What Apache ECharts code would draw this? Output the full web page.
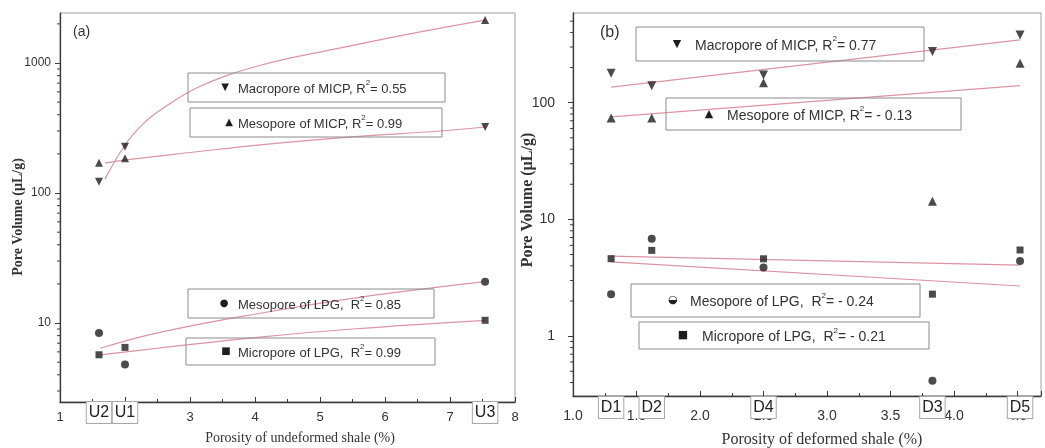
<!DOCTYPE html>
<html><head><meta charset="utf-8">
<script src="https://cdn.jsdelivr.net/npm/echarts@6/dist/echarts.min.js"></script>
<style>html,body{margin:0;padding:0;background:#fff}#c{width:1045px;height:448px}</style>
</head><body><div id="c"></div>
<script>
// ---------- data: panel (a) undeformed shale ----------
const leftCats = ['U2', 'U1', 'U3'];
const leftPorosity = [1.6, 2.0, 7.54];
const leftMacroMICP = [122, 227, 322];   // down triangles
const leftMesoMICP = [171, 185, 2140];   // up triangles
const leftMesoLPG = [8.4, 4.8, 20.8];    // circles
const leftMicroLPG = [5.7, 6.5, 10.5];   // squares
// fit curves [porosity, volume]
const leftFitMacroMICP = [[1.69, 128], [2.0, 234], [2.25, 330], [2.5, 420], [3.15, 660], [4.1, 965], [5.3, 1300], [6.5, 1720], [7.54, 2140]];
const leftFitMesoMICP = [[1.69, 170], [2.02, 180], [3.0, 205], [4.08, 235], [5.5, 270], [6.85, 300], [7.54, 322]];
const leftFitMesoLPG = [[1.62, 6.4], [2.5, 8.4], [4.08, 11.9], [5.5, 15.5], [7.5, 20.7]];
const leftFitMicroLPG = [[1.62, 5.7], [2.5, 6.4], [4.08, 7.8], [5.5, 9.0], [7.54, 10.5]];
const leftLegend = [
  ['▼', 'Macropore of MICP, R', '= 0.55'],
  ['▲', 'Mesopore of MICP, R', '= 0.99'],
  ['●', 'Mesopore of LPG,  R', '= 0.85'],
  ['■', 'Micropore of LPG,  R', '= 0.99']
];

// ---------- data: panel (b) deformed shale ----------
const rightCats = ['D1', 'D2', 'D4', 'D3', 'D5'];
const rightPorosity = [1.30, 1.62, 2.50, 3.83, 4.52];
const rightMacroMICP = [179, 140, 173, 274, 381];
const rightMesoMICP = [74, 74, 148, 14.3, 218];
const rightMesoLPG = [2.29, 6.84, 3.87, 0.415, 4.41];
const rightMicroLPG = [4.61, 5.43, 4.6, 2.29, 5.47];
const rightFitMacroMICP = [[1.30, 136], [4.52, 345]];
const rightFitMesoMICP = [[1.30, 75.5], [4.52, 140]];
const rightFitMicroLPG = [[1.30, 4.85], [4.52, 4.06]];
const rightFitMesoLPG = [[1.30, 4.32], [4.52, 2.69]];
const rightLegend = [
  ['▼', 'Macropore of MICP, R', '= 0.77'],
  ['▲', 'Mesopore of MICP, R', '= - 0.13'],
  ['◒', 'Mesopore of LPG,  R', '= - 0.24'],
  ['■', 'Micropore of LPG,  R', '= - 0.21']
];

const SANS = '"Liberation Sans", Arial, sans-serif';
const SERIF = '"Liberation Serif", "Times New Roman", serif';
const LINE = '#dc94a2';
const MARK = '#1e1e1e';
const AX = '#3a3a3a';

function pow10Label(v) {
  const l = Math.log10(v), r = Math.round(l);
  return Math.abs(l - r) < 1e-6 ? String(Math.round(Math.pow(10, r))) : '';
}
function halfLabel(v) {
  return Math.abs(v * 2 - Math.round(v * 2)) < 1e-6 ? v.toFixed(1) : '';
}
const pairs = (xs, ys) => xs.map((x, i) => [x, ys[i]]);

const chart = echarts.init(document.getElementById('c'));

function xAx(grid, min, max, interval, fmt, fs, margin) {
  return {
    gridIndex: grid, type: 'value', min: min, max: max, interval: interval,
    axisLine: { show: true, onZero: false, lineStyle: { color: AX, width: 1.3 } },
    axisTick: { show: true, inside: true, length: 5, lineStyle: { color: AX } },
    minorTick: { show: true, splitNumber: 2, length: 3, lineStyle: { color: AX } },
    splitLine: { show: false }, minorSplitLine: { show: false },
    axisLabel: { formatter: fmt, fontFamily: SANS, fontSize: fs, color: '#333', margin: margin, showMaxLabel: true }
  };
}
function yAx(grid, min, max, fs, margin) {
  return {
    gridIndex: grid, type: 'log', min: min, max: max,
    axisLine: { show: true, onZero: false, lineStyle: { color: AX, width: 1.3 } },
    axisTick: { show: true, inside: false, length: 5, lineStyle: { color: AX } },
    splitLine: { show: false },
    axisLabel: { formatter: pow10Label, fontFamily: SANS, fontSize: fs, color: '#333', margin: margin, showMinLabel: false, showMaxLabel: false }
  };
}
function sc(name, xi, data, symbol, rot, size) {
  return { name: name, type: 'scatter', xAxisIndex: xi, yAxisIndex: xi, data: data,
    symbol: symbol, symbolRotate: rot, symbolSize: size,
    itemStyle: { color: MARK }, z: 5 };
}
function fit(name, xi, data, smooth) {
  return { name: name, type: 'line', xAxisIndex: xi, yAxisIndex: xi, data: data, smooth: smooth,
    showSymbol: false, symbol: 'none', lineStyle: { color: LINE, width: 1.2 }, z: 3 };
}

chart.setOption({
  animation: false,
  backgroundColor: '#fff',
  grid: [
    { left: 60, top: 13, width: 455, height: 389, show: true, borderColor: '#a0a0a0', borderWidth: 1 },
    { left: 573, top: 13, width: 468, height: 383, show: true, borderColor: '#a0a0a0', borderWidth: 1 }
  ],
  xAxis: [
    xAx(0, 1, 8, 1, v => String(v), 13, 9),
    xAx(1, 1, 4.685, 0.5, halfLabel, 14, 13)
  ],
  yAxis: [
    yAx(0, 2.47, 2425, 12, 9),
    yAx(1, 0.307, 587, 14, 18)
  ],
  series: [
    fit('fit a macro', 0, leftFitMacroMICP, 0.4),
    fit('fit a meso', 0, leftFitMesoMICP, 0.4),
    fit('fit a meso LPG', 0, leftFitMesoLPG, 0.4),
    fit('fit a micro LPG', 0, leftFitMicroLPG, 0.4),
    sc('Macropore of MICP (a)', 0, pairs(leftPorosity, leftMacroMICP), 'triangle', 180, 8),
    sc('Mesopore of MICP (a)', 0, pairs(leftPorosity, leftMesoMICP), 'triangle', 0, 8),
    sc('Mesopore of LPG (a)', 0, pairs(leftPorosity, leftMesoLPG), 'circle', 0, 8),
    sc('Micropore of LPG (a)', 0, pairs(leftPorosity, leftMicroLPG), 'rect', 0, 7),
    fit('fit b macro', 1, rightFitMacroMICP, false),
    fit('fit b meso', 1, rightFitMesoMICP, false),
    fit('fit b micro LPG', 1, rightFitMicroLPG, false),
    fit('fit b meso LPG', 1, rightFitMesoLPG, false),
    sc('Macropore of MICP (b)', 1, pairs(rightPorosity, rightMacroMICP), 'triangle', 180, 9),
    sc('Mesopore of MICP (b)', 1, pairs(rightPorosity, rightMesoMICP), 'triangle', 0, 9),
    sc('Mesopore of LPG (b)', 1, pairs(rightPorosity, rightMesoLPG), 'circle', 0, 8),
    sc('Micropore of LPG (b)', 1, pairs(rightPorosity, rightMicroLPG), 'rect', 0, 7)
  ]
});

// ---------- annotations ----------
const g = [];
function logMinor(axisIdx, lo, hi) {
  const px = chart.convertToPixel({ xAxisIndex: axisIdx }, 1);
  for (let d = Math.floor(Math.log10(lo)); d <= Math.ceil(Math.log10(hi)); d++) {
    for (let k = 2; k <= 9; k++) {
      const v = k * Math.pow(10, d);
      if (v > lo && v < hi) {
        const py = chart.convertToPixel({ yAxisIndex: axisIdx }, v);
        g.push({ type: 'line', shape: { x1: px - 3, y1: py, x2: px, y2: py }, style: { stroke: AX, lineWidth: 1 }, z: 60 });
      }
    }
  }
}
logMinor(0, 2.47, 2425);
logMinor(1, 0.307, 587);

function catBoxes(axisIdx, cats, xs, top) {
  cats.forEach((c, i) => {
    const px = chart.convertToPixel({ xAxisIndex: axisIdx }, xs[i]);
    g.push({ type: 'text', x: px, y: top, z: 100,
      style: { text: c, fontFamily: SANS, fontSize: 16, fill: '#222', align: 'center', verticalAlign: 'top',
        backgroundColor: '#fff', borderColor: '#a8a8a8', borderWidth: 1, padding: [3, 2, 2, 2] } });
  });
}
catBoxes(0, leftCats, leftPorosity, 402);
catBoxes(1, rightCats, rightPorosity, 397);

function legendBox(item, box, markX, textX, fs) {
  const cy = box[1] + box[3] / 2;
  g.push({ type: 'rect', shape: { x: box[0], y: box[1], width: box[2], height: box[3] },
    style: { fill: 'none', stroke: '#8c8c8c', lineWidth: 1 }, z: 40 });
  g.push({ type: 'text', x: markX, y: cy, z: 41,
    style: { text: item[0], fontFamily: 'DejaVu Sans', fontSize: fs - 3, fill: MARK, align: 'center', verticalAlign: 'middle' } });
  g.push({ type: 'text', x: textX, y: cy, z: 41,
    style: { text: '{t|' + item[1] + '}{s|2}{t|' + item[2] + '}', align: 'left', verticalAlign: 'middle',
      rich: {
        t: { fontFamily: SANS, fontSize: fs, fill: '#333', lineHeight: fs + 4, verticalAlign: 'bottom' },
        s: { fontFamily: SANS, fontSize: Math.round(fs * 0.6), fill: '#333', lineHeight: fs + 4, verticalAlign: 'top' }
      } } });
}
legendBox(leftLegend[0], [188, 73, 257, 29], 225, 238, 13);
legendBox(leftLegend[1], [190, 108, 252, 29], 229, 238, 13);
legendBox(leftLegend[2], [188, 289, 246, 29], 224, 238, 13);
legendBox(leftLegend[3], [186, 338, 249, 27], 226, 238, 13);
legendBox(rightLegend[0], [636, 27, 288, 34], 677, 695, 14);
legendBox(rightLegend[1], [666, 98, 295, 32], 709, 727, 14);
legendBox(rightLegend[2], [631, 284, 289, 33], 673, 690, 14);
legendBox(rightLegend[3], [639, 322, 290, 27], 683, 702, 14);

g.push({ type: 'text', x: 73, y: 32, z: 50, style: { text: '(a)', fontFamily: SANS, fontSize: 14, fill: '#333', align: 'left', verticalAlign: 'middle' } });
g.push({ type: 'text', x: 600, y: 33, z: 50, style: { text: '(b)', fontFamily: SANS, fontSize: 16, fill: '#333', align: 'left', verticalAlign: 'middle' } });

g.push({ type: 'text', x: 18, y: 217, rotation: Math.PI / 2, z: 50,
  style: { text: 'Pore Volume (µL/g)', fontFamily: SERIF, fontWeight: 'bold', fontSize: 14, fill: '#333', align: 'center', verticalAlign: 'middle' } });
g.push({ type: 'text', x: 528, y: 200, rotation: Math.PI / 2, z: 50,
  style: { text: 'Pore Volume (µL/g)', fontFamily: SERIF, fontWeight: 'bold', fontSize: 16, fill: '#333', align: 'center', verticalAlign: 'middle' } });
g.push({ type: 'text', x: 300, y: 438, z: 50,
  style: { text: 'Porosity of undeformed shale (%)', fontFamily: SERIF, fontSize: 14, fill: '#333', align: 'center', verticalAlign: 'middle' } });
g.push({ type: 'text', x: 822, y: 440, z: 50,
  style: { text: 'Porosity of deformed shale (%)', fontFamily: SERIF, fontSize: 16, fill: '#333', align: 'center', verticalAlign: 'middle' } });

chart.setOption({ graphic: g });
</script></body></html>
